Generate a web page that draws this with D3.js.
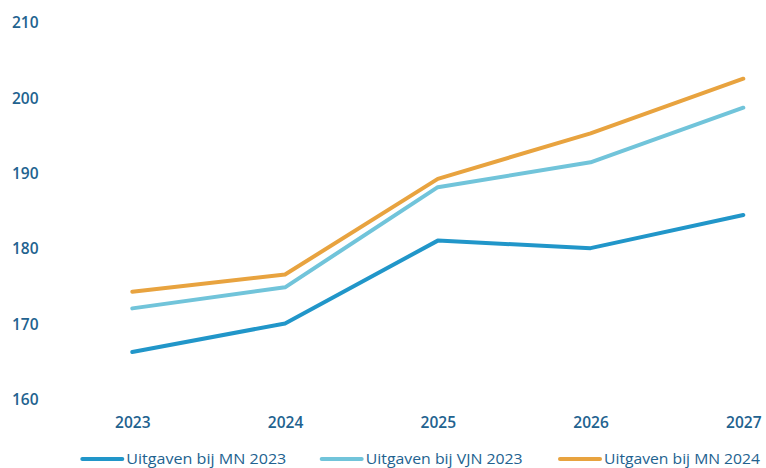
<!DOCTYPE html>
<html><head><meta charset="utf-8">
<script src="https://cdn.jsdelivr.net/npm/d3@7"></script>
<style>body{margin:0;background:#fff}svg{display:block}</style>
</head><body><svg id="c" width="766" height="468"></svg>
<script>
const years = ["2023","2024","2025","2026","2027"];
const seriesNames = ["Uitgaven bij MN 2023","Uitgaven bij VJN 2023","Uitgaven bij MN 2024"];
const mn2023 = [166.3, 170.1, 181.1, 180.1, 184.5];
const vjn2023 = [172.1, 174.9, 188.2, 191.5, 198.75];
const mn2024 = [174.3, 176.6, 189.3, 195.35, 202.6];
const yTicks = [160,170,180,190,200,210];
const colors = ["#2196c9","#71c4da","#e8a33f"];
const textColor = "#22628f";
const font = "'Open Sans', sans-serif";

const svg = d3.select("#c");
const x = d3.scalePoint().domain(years).range([132.3, 743.3]);
const y = d3.scaleLinear().domain([160,210]).range([399.5, 23]);

const yAxis = svg.append("g")
  .call(d3.axisLeft(y).tickValues(yTicks).tickSize(0).tickPadding(0).tickFormat(d3.format("d")));
yAxis.select(".domain").remove();
yAxis.selectAll("text").attr("x", 12).attr("text-anchor","start")
  .attr("fill", textColor).style("font-family", font).style("font-size","15.5px").style("font-weight","600");

const xAxis = svg.append("g").attr("transform","translate(0,423)")
  .call(d3.axisBottom(x).tickSize(0).tickPadding(0));
xAxis.select(".domain").remove();
xAxis.selectAll("text").attr("dy","0.35em").attr("y",0)
  .attr("fill", textColor).style("font-family", font).style("font-size","15.5px").style("font-weight","600");

const data = [mn2023, vjn2023, mn2024];
const line = d3.line().x((d,i)=>x(years[i])).y(d=>y(d));
data.forEach((s,k)=>{
  svg.append("path").datum(s).attr("d", line).attr("fill","none")
    .attr("stroke", colors[k]).attr("stroke-width",4).attr("stroke-linecap","round").attr("stroke-linejoin","round");
});

const legX = [82.3, 321.7, 560];
const legW = [160, 157, 156];
const lg = svg.append("g");
seriesNames.forEach((n,k)=>{
  lg.append("line").attr("x1",legX[k]).attr("x2",legX[k]+40).attr("y1",459).attr("y2",459)
    .attr("stroke",colors[k]).attr("stroke-width",4).attr("stroke-linecap","round");
  lg.append("text").attr("x",legX[k]+44).attr("y",458.5).attr("dy","0.35em")
    .attr("fill",textColor).style("font-family",font).style("font-size","15px").style("font-weight","500")
    .attr("textLength", legW[k]).attr("lengthAdjust","spacingAndGlyphs")
    .text(n);
});
</script></body></html>
